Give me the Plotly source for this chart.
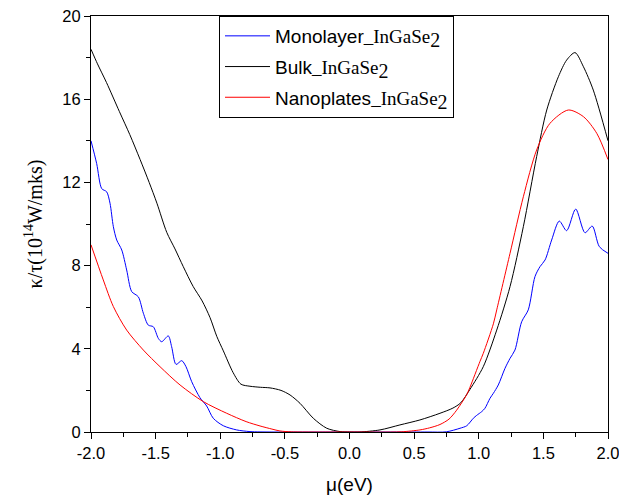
import plotly.graph_objects as go

# Bulk_InGaSe2 (black)
bulk_x = [-2.0, -1.95, -1.88, -1.78, -1.70, -1.62, -1.55, -1.49, -1.414, -1.35, -1.286, -1.21,
          -1.14, -1.079, -1.027, -0.976, -0.90, -0.84, -0.77, -0.69, -0.615, -0.53, -0.46,
          -0.383, -0.28, -0.176, -0.073, 0.0, 0.08, 0.236, 0.39, 0.545, 0.70, 0.80, 0.86,
          0.932, 1.035, 1.139, 1.242, 1.345, 1.448, 1.526, 1.616, 1.68, 1.745, 1.81, 1.886, 2.0]
bulk_y = [18.4, 17.7, 16.8, 15.4, 14.3, 13.1, 12.0, 11.0, 9.6, 8.8, 7.95, 7.0,
          6.3, 5.5, 4.6, 3.9, 2.85, 2.3, 2.2, 2.15, 2.12, 2.0, 1.78,
          1.38, 0.66, 0.18, 0.02, 0.0, 0.0, 0.1, 0.34, 0.58, 0.9, 1.15, 1.4,
          2.05, 3.14, 4.9, 6.99, 9.87, 13.24, 15.48, 17.08, 17.88, 18.24, 17.56, 16.44, 14.0]

# Nanoplates_InGaSe2 (red)
nano_x = [-2.0, -1.905, -1.827, -1.724, -1.595, -1.466, -1.311, -1.131, -0.95, -0.80, -0.692,
          -0.60, -0.538, -0.45, 0.0, 0.40, 0.545, 0.62, 0.70, 0.77, 0.829, 0.907, 0.932, 1.01,
          1.035, 1.113, 1.139, 1.242, 1.345, 1.448, 1.551, 1.693, 1.81, 1.913, 2.0]
nano_y = [9.0, 7.31, 6.03, 4.9, 3.94, 3.14, 2.26, 1.46, 0.9, 0.5, 0.29,
          0.14, 0.05, 0.01, 0.0, 0.01, 0.1, 0.2, 0.36, 0.62, 1.05, 1.8, 2.15, 3.4,
          3.78, 5.2, 5.87, 8.59, 11.31, 13.56, 14.84, 15.48, 15.16, 14.36, 13.1]

# Monolayer_InGaSe2 (blue)
mono_x = [-2.0, -1.956, -1.917, -1.879, -1.853, -1.827, -1.801, -1.762, -1.724, -1.685, -1.634,
          -1.595, -1.557, -1.518, -1.479, -1.453, -1.402, -1.376, -1.342, -1.298, -1.265,
          -1.221, -1.157, -1.105, -1.054, -0.976, -0.873, -0.77, -0.6, 0.0, 0.6, 0.75,
          0.855, 0.907, 0.958, 0.984, 1.023, 1.048, 1.087, 1.113, 1.151, 1.203, 1.242,
          1.28, 1.332, 1.383, 1.435, 1.474, 1.513, 1.564, 1.623, 1.68, 1.75, 1.822, 1.878,
          1.933, 2.0]
mono_y = [14.0, 12.9, 11.7, 11.55, 11.0, 9.87, 9.23, 8.75, 7.79, 6.75, 6.5,
          5.71, 5.14, 5.06, 4.5, 4.34, 4.62, 4.1, 3.25, 3.43, 3.14,
          2.42, 1.65, 1.25, 0.66, 0.3, 0.1, 0.02, 0.0, 0.0, 0.0, 0.01,
          0.18, 0.3, 0.66, 0.8, 0.98, 1.14, 1.62, 1.86, 2.26, 3.06, 3.54,
          3.94, 5.3, 5.87, 7.47, 7.95, 8.27, 9.23, 10.14, 9.68, 10.72, 9.58, 9.9,
          8.91, 8.59]

x_ticks = [-2.0, -1.5, -1.0, -0.5, 0.0, 0.5, 1.0, 1.5, 2.0]
y_ticks = [0, 4, 8, 12, 16, 20]

serif = "Liberation Serif"
sans = "Liberation Sans"

def lname(prefix):
    return (prefix + "<span style='font-family:Liberation Serif'>_InGaSe"
            "<sub><span style='font-size:20px'>2</span></sub></span>")

fig = go.Figure()
fig.add_trace(go.Scatter(x=mono_x, y=mono_y, mode="lines", name=lname("Monolayer"),
                         legendgroup="g1",
                         line=dict(color="#0000FF", width=1, shape="spline", smoothing=0.8)))
fig.add_trace(go.Scatter(x=bulk_x, y=bulk_y, mode="lines", name=lname("Bulk"),
                         legendgroup="g2",
                         line=dict(color="#000000", width=1, shape="spline", smoothing=0.8)))
fig.add_trace(go.Scatter(x=nano_x, y=nano_y, mode="lines", name=lname("Nanoplates"),
                         legendgroup="g3",
                         line=dict(color="#FF0000", width=1, shape="spline", smoothing=0.8)))

fig.update_layout(
    width=619, height=500,
    margin=dict(l=91, r=11, t=16, b=68, autoexpand=False),
    paper_bgcolor="white", plot_bgcolor="white",
    font=dict(family=sans, color="black", size=16),
    legend=dict(x=(219 - 91) / 517, y=1.0, xanchor="left", yanchor="top",
                bordercolor="black", borderwidth=1, bgcolor="white",
                font=dict(family=sans, size=19, color="black"),
                itemwidth=45, tracegroupgap=3),
    xaxis=dict(range=[-2, 2], tickvals=x_ticks, ticktext=[f"{v:.1f}" for v in x_ticks],
               automargin=False, ticklabeloverflow="allow",
               showline=True, linecolor="black", linewidth=1, mirror=True,
               ticks="outside", ticklen=6, tickcolor="black", tickwidth=1,
               minor=dict(dtick=0.25, ticks="outside", ticklen=4, tickcolor="black"),
               showgrid=False, zeroline=False,
               tickfont=dict(family=sans, size=16.5),
               title=dict(text="μ(eV)", font=dict(family=sans, size=19), standoff=16)),
    yaxis=dict(range=[0, 20], tickvals=y_ticks, automargin=False,
               showline=True, linecolor="black", linewidth=1, mirror=True,
               ticks="outside", ticklen=6, tickcolor="black", tickwidth=1,
               minor=dict(dtick=2, ticks="outside", ticklen=4, tickcolor="black"),
               showgrid=False, zeroline=False,
               tickfont=dict(family=sans, size=16.5),
               title=dict(text="<span style='font-family:Liberation Serif'>κ/τ(10<sup>14</sup>W/mks)</span>",
                          font=dict(family=serif, size=20), standoff=14)),
)

fig.write_html("out.html")
